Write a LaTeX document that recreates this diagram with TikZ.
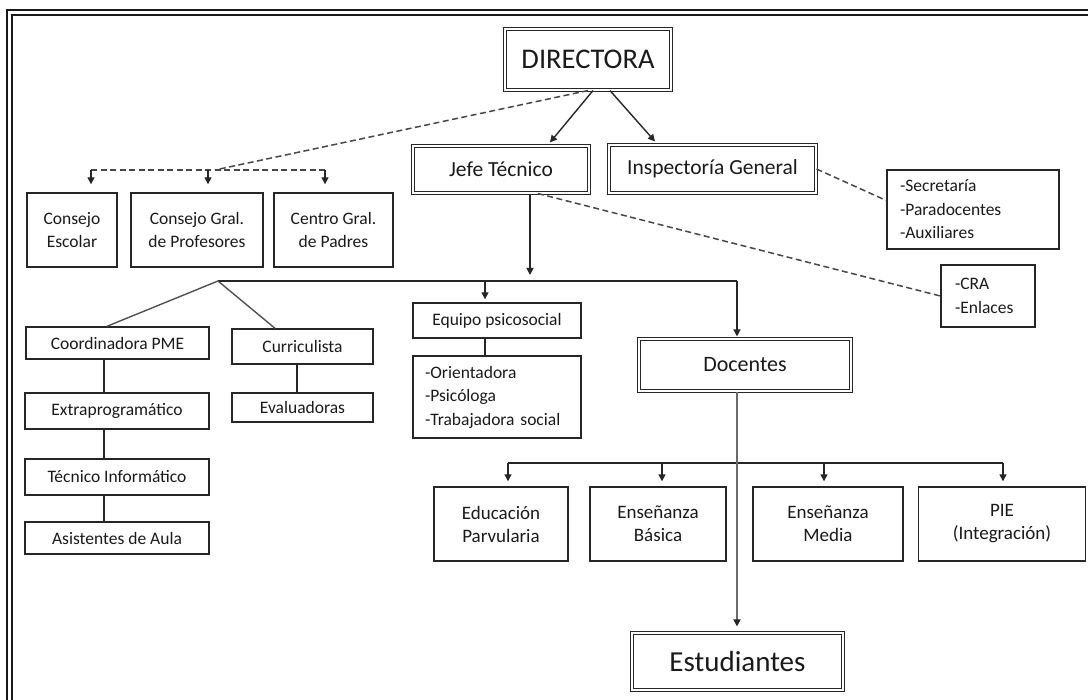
\documentclass[tikz,border=0pt]{standalone}
\usepackage{fontspec}
\setmainfont{Carlito}
\usetikzlibrary{arrows.meta}
\definecolor{ln}{HTML}{262626}
\definecolor{tx}{HTML}{1A1A1A}
\definecolor{gl}{HTML}{6A6A6A}
\begin{document}
\begin{tikzpicture}[x=1pt,y=-1pt,
  box/.style={draw=ln, line width=1.4pt, rectangle, inner sep=0pt, text=tx, align=center,
    font=\fontsize{17.5}{23.5}\selectfont},
  bbox/.style={box, font=\fontsize{19}{23}\selectfont},
  dbox/.style={draw=ln, line width=1.1pt, double, double distance=2.3pt, rectangle,
    inner sep=0pt, text=tx, align=center},
  conn/.style={draw=ln, line width=1.4pt},
  arr/.style={conn, -{Triangle[width=7pt,length=7pt]}},
  dashline/.style={draw=ln!85, line width=1.5pt, dash pattern=on 6pt off 3.5pt},
]
\useasboundingbox (0,0) rectangle (1088,700);
% outer frame
\coordinate (fb) at (9.5,720);
\coordinate (fc) at (9.5,12.25);
\coordinate (fr) at (1110,12.25);
\draw[draw=black!90, line width=2.2pt, double, double distance=3pt] (fb) -- (fc) -- (fr);

% nodes
\node[dbox, minimum width=166pt, minimum height=61pt, font=\fontsize{28.5}{32}\selectfont] (dir) at (588,59.5) {DIRECTORA};
\node[dbox, minimum width=176pt, minimum height=47pt, font=\fontsize{21.5}{26}\selectfont] (jefe) at (501,169.5) {Jefe Técnico};
\node[dbox, minimum width=207pt, minimum height=48pt, font=\fontsize{21.5}{26}\selectfont] (insp) at (712.5,169) {Inspectoría General};
\node[box, align=left, text width=146pt, inner xsep=13pt, minimum height=79pt] (sec) at (973,209.5) {-Secretaría\\-Paradocentes\\-Auxiliares};
\node[box, align=left, text width=66pt, inner xsep=14pt, minimum height=62pt] (cra) at (988,296) {-CRA\\-Enlaces};

\node[box, minimum width=90pt, minimum height=74pt] (ce) at (72,230) {Consejo\\Escolar};
\node[box, minimum width=132pt, minimum height=74pt] (cgp) at (197,230) {Consejo Gral.\\de Profesores};
\node[box, minimum width=119pt, minimum height=74pt] (cgpa) at (333.5,230) {Centro Gral.\\de Padres};

\node[box, minimum width=183pt, minimum height=32pt] (coord) at (117.5,343) {Coordinadora PME};
\node[box, minimum width=184pt, minimum height=36pt] (extra) at (117,411) {Extraprogramático};
\node[box, minimum width=184pt, minimum height=36pt] (tec) at (117,477) {Técnico Informático};
\node[box, minimum width=184pt, minimum height=32pt] (asist) at (117,538) {Asistentes de Aula};
\node[box, minimum width=141pt, minimum height=35pt] (curr) at (302.5,346.5) {Curriculista};
\node[box, minimum width=141pt, minimum height=29pt] (eval) at (302.5,407.5) {Evaluadoras};

\node[box, minimum width=168pt, minimum height=35pt] (equipo) at (497,320.5) {Equipo psicosocial};
\node[box, align=left, text width=144pt, inner xsep=12pt, minimum height=82pt] (orient) at (497,397) {-Orientadora\\-Psicóloga\\-Trabajadora social};

\node[dbox, minimum width=212pt, minimum height=52pt, font=\fontsize{22}{26}\selectfont] (doc) at (745,365) {Docentes};

\node[bbox, minimum width=134pt, minimum height=74pt] (educ) at (501,524) {Educación\\Parvularia};
\node[bbox, minimum width=136pt, minimum height=74pt] (basica) at (658,524) {Enseñanza\\Básica};
\node[bbox, minimum width=150pt, minimum height=74pt] (media) at (828,524) {Enseñanza\\Media};
\node[bbox, minimum width=167pt, minimum height=74pt] (pie) at (1002,524) {PIE\\(Integración)};

\node[dbox, minimum width=211pt, minimum height=57pt, font=\fontsize{29}{33}\selectfont] (est) at (737.5,661.5) {Estudiantes};

% DIRECTORA connectors
\draw[arr] ([xshift=5pt]dir.south) -- ([xshift=49pt,yshift=3pt]jefe.north);
\draw[arr] ([xshift=22pt]dir.south) -- ([xshift=-57.5pt,yshift=3pt]insp.north);
\coordinate (dj) at (215,170);
\coordinate (hL) at (91,170);
\coordinate (hM) at (208,170);
\coordinate (hR) at (325,170);
\draw[dashline] (dir.south) -- (dj);
\draw[dashline] (hL) -- (hR);
\draw[arr, shorten >=8pt] (hL) -- (ce.north -| hL);
\draw[arr, shorten >=8pt] (hM) -- (cgp.north -| hM);
\draw[arr, shorten >=8pt] (hR) -- (cgpa.north -| hR);

% side dashed links
\draw[dashline] (insp.east) -- ([yshift=9pt]sec.west);
\draw[dashline] ([xshift=37pt]jefe.south) -- (cra.west);

% Jefe Tecnico branch
\coordinate (jt) at (530,275);
\coordinate (bL) at (218,281);
\coordinate (bE) at (485,281);
\coordinate (bR) at (737,281);
\coordinate (cA) at (107,0);
\coordinate (cB) at (275,0);
\draw[arr] (jefe.south -| jt) -- (jt);
\draw[conn] (bL) -- (bR);
\draw[conn, draw=ln!80] (bL) -- (coord.north -| cA);
\draw[conn, draw=ln!80] (bL) -- (curr.north -| cB);
\draw[arr, shorten >=3pt] (bE) -- (equipo.north -| bE);
\draw[arr, shorten >=2pt] (bR) -- (doc.north -| bR);

% left column
\coordinate (cx) at (104,0);
\coordinate (ex) at (297,0);
\draw[conn] (coord.south -| cx) -- (extra.north -| cx);
\draw[conn] (extra.south -| cx) -- (tec.north -| cx);
\draw[conn] (tec.south -| cx) -- (asist.north -| cx);
\draw[conn] (curr.south -| ex) -- (eval.north -| ex);
\draw[conn] (equipo.south -| bE) -- (orient.north -| bE);

% Docentes branch
\coordinate (t1) at (508,463);
\coordinate (t2) at (662,463);
\coordinate (t3) at (824,463);
\coordinate (t4) at (1003,463);
\draw[conn] (t1) -- (t4);
\draw[arr, shorten >=5pt] (t1) -- (educ.north -| t1);
\draw[arr, shorten >=5pt] (t2) -- (basica.north -| t2);
\draw[arr, shorten >=5pt] (t3) -- (media.north -| t3);
\draw[arr, shorten >=5pt] (t4) -- (pie.north -| t4);
\draw[draw=gl, line width=2.8pt, -{Triangle[width=7pt,length=7pt,color=ln]}, shorten >=6pt] (doc.south -| bR) -- (est.north -| bR);
\end{tikzpicture}
\end{document}
